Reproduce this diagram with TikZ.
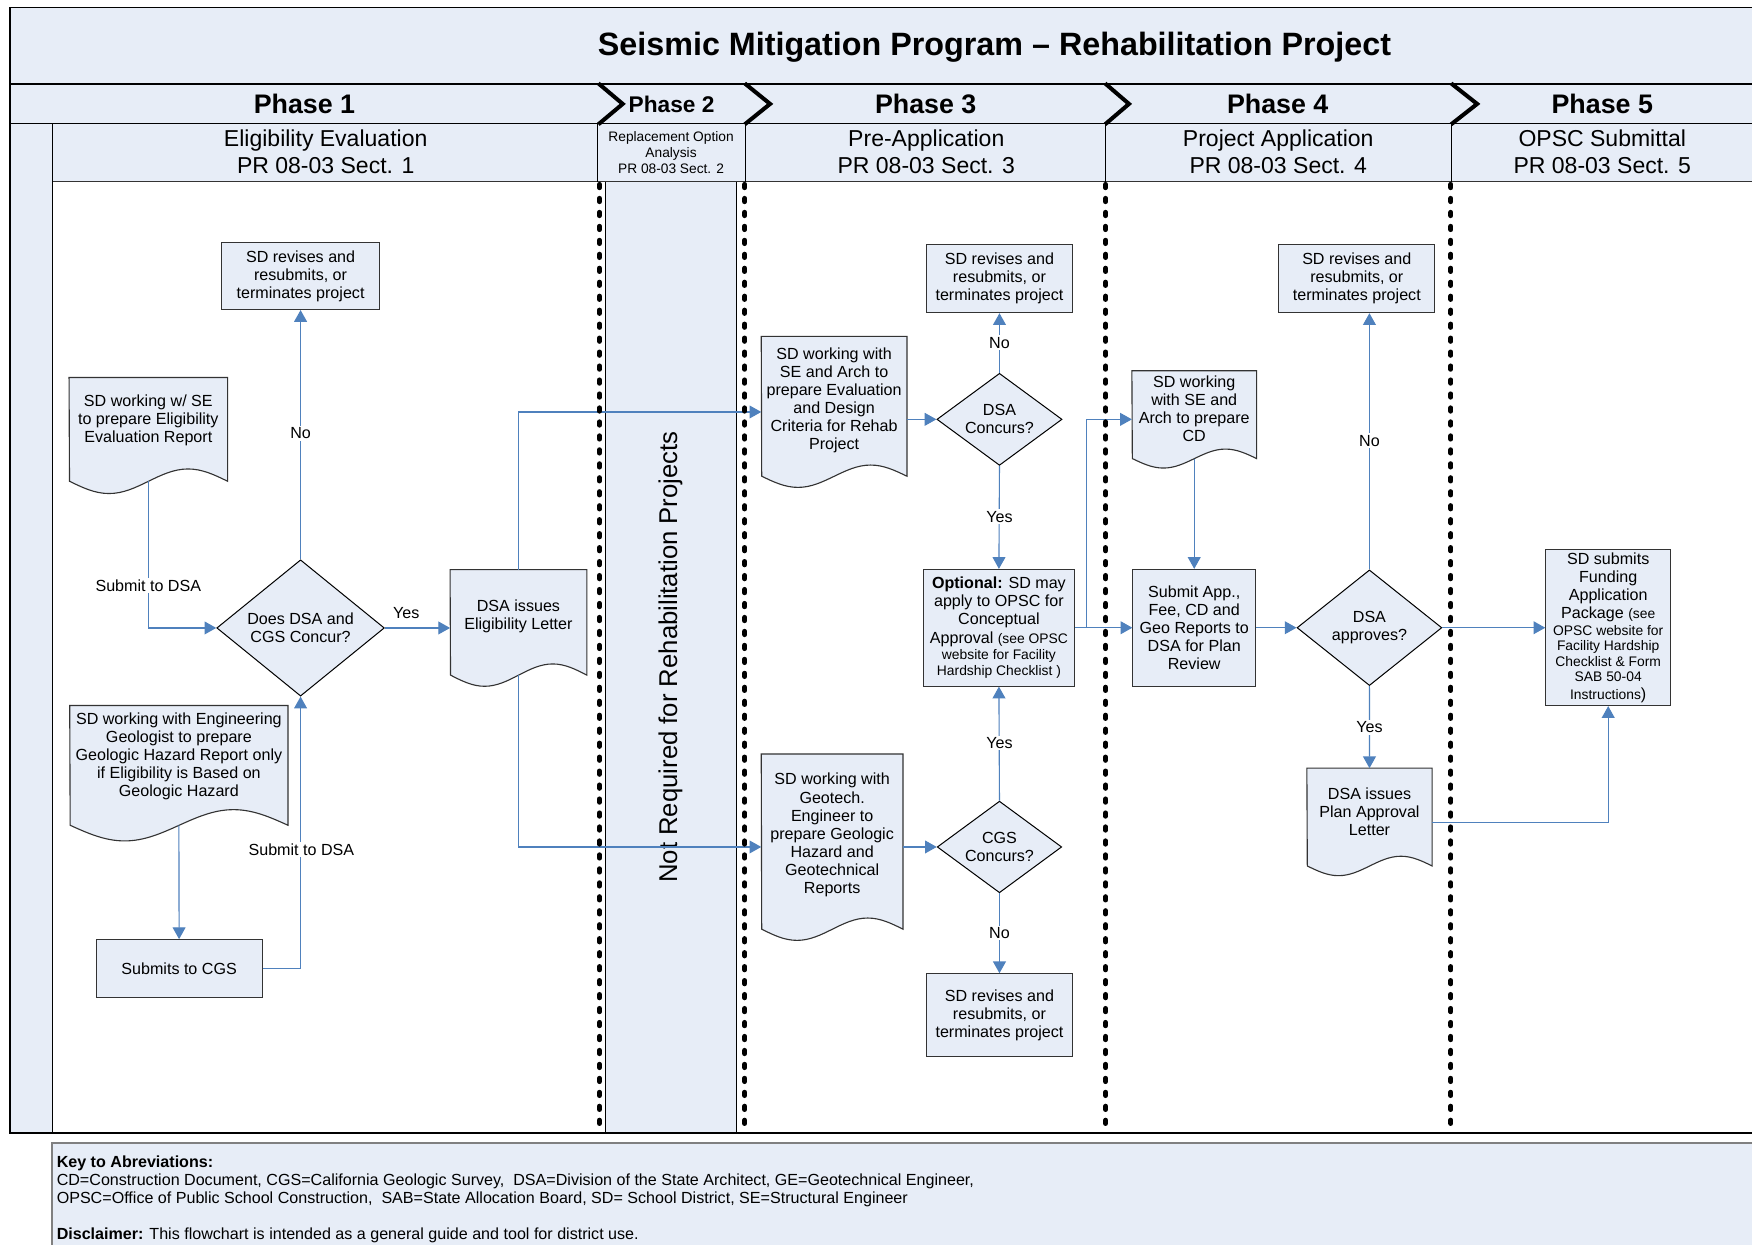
\documentclass[tikz,border=0pt]{standalone}
\usepackage{fontspec}
\setmainfont{Liberation Sans}
\usetikzlibrary{arrows.meta,calc,shapes.geometric}
\definecolor{lb}{RGB}{231,237,247}
\definecolor{ac}{RGB}{79,129,189}
\definecolor{bd}{RGB}{51,51,51}
\pgfdeclarelayer{frame}
\pgfdeclarelayer{docs}
\pgfsetlayers{frame,docs,main}
\newcommand\fbody{\fontsize{14.4}{16.2}\selectfont}
\newcommand\fsmall{\fontsize{12.4}{14.5}\selectfont}
\newcommand\ftitle{\fontsize{28.9}{34}\selectfont\bfseries}
\newcommand\fphase{\fontsize{24}{28}\selectfont\bfseries}
\newcommand\fsubh{\fontsize{20.6}{23.9}\selectfont}
% document outline: node name, drop of side bottom below node.south, wave amplitude, width
\newcommand\docshape[4]{%
  \begin{pgfonlayer}{docs}
  \path[docline] (#1.north west) -- (#1.north east) -- ([yshift=-#2]#1.south east)
    sin ++({-#4/4},-#3) cos ++({-#4/4},#3) sin ++({-#4/4},#3) cos ++({-#4/4},-#3) -- cycle;
  \end{pgfonlayer}}
\begin{document}
\begin{tikzpicture}[x=1pt,y=-1pt,
  box/.style={draw=bd, line width=1pt, fill=lb, inner sep=0pt, align=center, font=\fbody},
  docbox/.style={inner sep=0pt, align=center, font=\fbody},
  sz/.style 2 args={minimum width=#1pt, minimum height=#2pt},
  dia/.style={diamond, draw=black, line width=0.9pt, fill=lb, inner sep=0pt, align=center, font=\fbody},
  conn/.style={draw=ac, line width=1pt, -{Triangle[length=10.5pt,width=11.5pt]}},
  lbl/.style={font=\fbody, fill=white, inner sep=1.5pt},
  docline/.style={draw=bd, line width=1pt, fill=lb},
  dotln/.style={line width=4.4pt, dash pattern=on 3pt off 9.5pt, line cap=round},
  chev/.style={line width=3.6pt, line join=miter}]
\useasboundingbox (0,0) rectangle (1568,1114);

% ---------- frame ----------
\begin{pgfonlayer}{frame}
\fill[white] (0,0) rectangle (1568,1114);
\fill[lb] (8.8,6.6) rectangle (1600,162.6);
\fill[lb] (8.8,162.6) rectangle (47,1014);
\filldraw[fill=lb, draw=black, line width=0.8pt] (541.5,162.6) rectangle (659.3,1014);
\fill[lb] (46.4,1023) rectangle (1600,1130);
\draw[draw=black!50, line width=1.5pt] (1600,1023) -- (46.4,1023) -- (46.4,1130);
\draw[line width=1.3pt] (1600,6.6) -- (8.8,6.6) -- (8.8,1014) -- (1600,1014);
\draw[line width=1pt] (8.8,75.2) -- (1600,75.2);
\draw[line width=1pt] (8.8,110.4) -- (1600,110.4);
\draw[line width=1pt, draw=bd] (47,162.6) -- (1600,162.6);
\draw[line width=1pt] (47,110.4) -- (47,1014);
\foreach \x in {535,667,989,1299} \draw[line width=0.8pt] (\x,110.4) -- (\x,162.6);
\draw[chev] (535.5,74.6) -- (557.3,93) -- (535.5,111.3);
\draw[chev] (666.5,74.6) -- (689.2,93) -- (666.5,111.3);
\draw[chev] (989,74.6) -- (1010.4,93) -- (989,111.3);
\draw[chev] (1298.7,74.6) -- (1322,93) -- (1298.7,111.3);
\end{pgfonlayer}

% ---------- headers ----------
\node[font=\ftitle] (title) at (890,42) {Seismic Mitigation Program – Rehabilitation Project};
\node[font=\fphase] (ph1) at (272.5,93) {Phase 1};
\node[font=\fontsize{20.3}{24}\selectfont\bfseries] (ph2) at (601,93) {Phase 2};
\node[font=\fphase] (ph3) at (828.5,93) {Phase 3};
\node[font=\fphase] (ph4) at (1143.5,93) {Phase 4};
\node[font=\fphase] (ph5) at (1434,93) {Phase 5};
\node[font=\fsubh, align=center] (sh1) at (291.5,135.8) {Eligibility Evaluation\\PR 08-03 Sect. 1};
\node[font=\fontsize{12.3}{14.1}\selectfont, align=center] (sh2) at (600.6,136.4) {Replacement Option\\Analysis\\PR 08-03 Sect. 2};
\node[font=\fsubh, align=center] (sh3) at (829,135.8) {Pre-Application\\PR 08-03 Sect. 3};
\node[font=\fsubh, align=center] (sh4) at (1144,135.8) {Project Application\\PR 08-03 Sect. 4};
\node[font=\fsubh, align=center] (sh5) at (1434,135.8) {OPSC Submittal\\PR 08-03 Sect. 5};
\node[rotate=90, font=\fontsize{23}{27}\selectfont] (lane2) at (600,588) {Not Required for Rehabilitation Projects};

% ---------- Phase 1 ----------
\node[box, sz={142}{60}] (rev1) at (269,247) {SD revises and\\resubmits, or\\terminates project};
\node[docbox, sz={141.5}{77}] (doc1) at (132.75,376.5) {SD working w/ SE\\to prepare Eligibility\\Evaluation Report};
\docshape{doc1}{15.5pt}{11}{141.5}
\node[dia, minimum width=150pt, minimum height=122pt, aspect=1.23] (dia1) at (269,562) {Does DSA and\\CGS Concur?};
\node[docbox, sz={122}{83}] (letter) at (464,551.5) {DSA issues\\Eligibility Letter};
\docshape{letter}{11pt}{10}{122}
\node[docbox, sz={195}{90.8}] (doc2) at (160.1,677) {SD working with Engineering\\Geologist to prepare\\Geologic Hazard Report only\\if Eligibility is Based on\\Geologic Hazard};
\docshape{doc2}{16pt}{14}{195}
\node[box, sz={148.6}{52}] (cgs) at (160.3,867) {Submits to CGS};

% ---------- Phase 3 ----------
\node[box, sz={130}{61}] (rev3a) at (894.5,249.3) {SD revises and\\resubmits, or\\terminates project};
\node[docbox, sz={130}{114.4}] (doc3) at (746.5,358.5) {SD working with\\SE and Arch to\\prepare Evaluation\\and Design\\Criteria for Rehab\\Project};
\docshape{doc3}{10.3pt}{10}{130}
\node[dia, minimum width=112pt, minimum height=82.4pt, aspect=1.36] (dia3a) at (894.5,375.3) {DSA\\Concurs?};
\node[box, sz={135.5}{104.4}] (opt) at (894,561.8) {\textbf{Optional:} SD may\\apply to OPSC for\\Conceptual\\Approval {\fsmall(see OPSC}\\[-1.6pt]{\fsmall website for Facility}\\[-1.8pt]{\fsmall Hardship Checklist )}};
\node[docbox, sz={126.5}{144.8}] (doc4) at (744.75,747.4) {SD working with\\Geotech.\\Engineer to\\prepare Geologic\\Hazard and\\Geotechnical\\Reports};
\docshape{doc4}{11.6pt}{10}{126.5}
\node[dia, minimum width=111.4pt, minimum height=82pt, aspect=1.36] (dia3b) at (894.5,758) {CGS\\Concurs?};
\node[box, sz={130}{74}] (rev3b) at (894.5,908.5) {SD revises and\\resubmits, or\\terminates project};

% ---------- Phase 4 ----------
\node[docbox, sz={111.2}{67.8}] (doc5) at (1068.8,365.9) {SD working\\with SE and\\Arch to prepare\\CD};
\docshape{doc5}{10.4pt}{8.5}{111.2}
\node[box, sz={109.8}{104.4}] (sub) at (1068.8,561.8) {Submit App.,\\Fee, CD and\\Geo Reports to\\DSA for Plan\\Review};
\node[dia, minimum width=129.6pt, minimum height=103.5pt, aspect=1.25] (dia4) at (1225.6,561.8) {DSA\\approves?};
\node[box, sz={139.5}{61}] (rev4) at (1214.3,249.3) {SD revises and\\resubmits, or\\terminates project};
\node[docbox, sz={111.7}{78.1}] (pal) at (1225.65,726.75) {DSA issues\\Plan Approval\\Letter};
\docshape{pal}{9pt}{8.7}{111.7}

% ---------- Phase 5 ----------
\node[box, sz={111.7}{139.3}] (fund) at (1439.3,561.8) {SD submits\\Funding\\Application\\Package {\fsmall(see}\\[-1.2pt]{\fsmall OPSC website for}\\[-2.5pt]{\fsmall Facility Hardship}\\[-2.2pt]{\fsmall Checklist \& Form}\\[-2.5pt]{\fsmall SAB 50-04}\\{\fsmall Instructions})};

% ---------- connectors ----------
\draw[conn] ([yshift=-15.5pt]doc1.south) |- (dia1.west);
\draw[conn] (dia1.north) -- (rev1.south);
\draw[conn] (dia1.east) -- (dia1.east -| letter.west);
\draw[conn] ([yshift=-16pt]doc2.south) -- (cgs.north);
\draw[conn] (cgs.east) -| (dia1.south);
\draw[conn] (letter.north) |- ([yshift=-10.2pt]doc3.west);
\draw[conn] ([yshift=-11pt]letter.south) |- (doc4.west |- dia3b.west);
\draw[conn] (doc3.east |- dia3a.west) -- (dia3a.west);
\draw[conn] (dia3a.north) -- (rev3a.south);
\draw[conn] (dia3a.south) -- (opt.north);
\draw[conn] (doc4.east |- dia3b.west) -- (dia3b.west);
\draw[conn] (dia3b.north) -- (opt.south);
\draw[conn] (dia3b.south) -- (rev3b.north);
\draw[conn] (opt.east) -- (sub.west);
\coordinate (br) at (972.3,561.8);
\draw[conn] (br) |- (doc5.west |- dia3a.west);
\draw[conn] ([yshift=-10.4pt]doc5.south) -- (sub.north);
\draw[conn] (sub.east) -- (dia4.west);
\draw[conn] (dia4.north) -- (dia4.north |- rev4.south);
\draw[conn] (dia4.south) -- (pal.north);
\draw[conn] (dia4.east) -- (fund.west);
\draw[conn] ([yshift=-9pt]pal.east) -| (fund.south);

% ---------- connector labels ----------
\node[lbl] (l1) at (132.75,524) {Submit to DSA};
\node[lbl] (l2) at (269,388) {No};
\node[lbl, fill=none] (l3) at (363.5,549) {Yes};
\node[lbl] (l4) at (269.7,760.6) {Submit to DSA};
\node[lbl] (l5) at (894.5,306.7) {No};
\node[lbl] (l6) at (894.5,462.4) {Yes};
\node[lbl] (l7) at (894.5,665) {Yes};
\node[lbl] (l8) at (894.5,835) {No};
\node[lbl] (l9) at (1225.6,394.4) {No};
\node[lbl] (l10) at (1225.6,651) {Yes};

% ---------- lane separators ----------
\foreach \x in {536.5,666.5,989.5,1298.5} \draw[dotln] (\x,165) -- (\x,1013);

% ---------- key ----------
\node[anchor=north west, font=\fbody, align=left, inner sep=0pt] (key) at (50.6,1034) {\textbf{Key to Abreviations:}\\CD=Construction Document, CGS=California Geologic Survey,\ \ DSA=Division of the State Architect, GE=Geotechnical Engineer,\\OPSC=Office of Public School Construction,\ \ SAB=State Allocation Board, SD= School District, SE=Structural Engineer\\[16.1pt]\textbf{Disclaimer:} This flowchart is intended as a general guide and tool for district use.};
\end{tikzpicture}
\end{document}
